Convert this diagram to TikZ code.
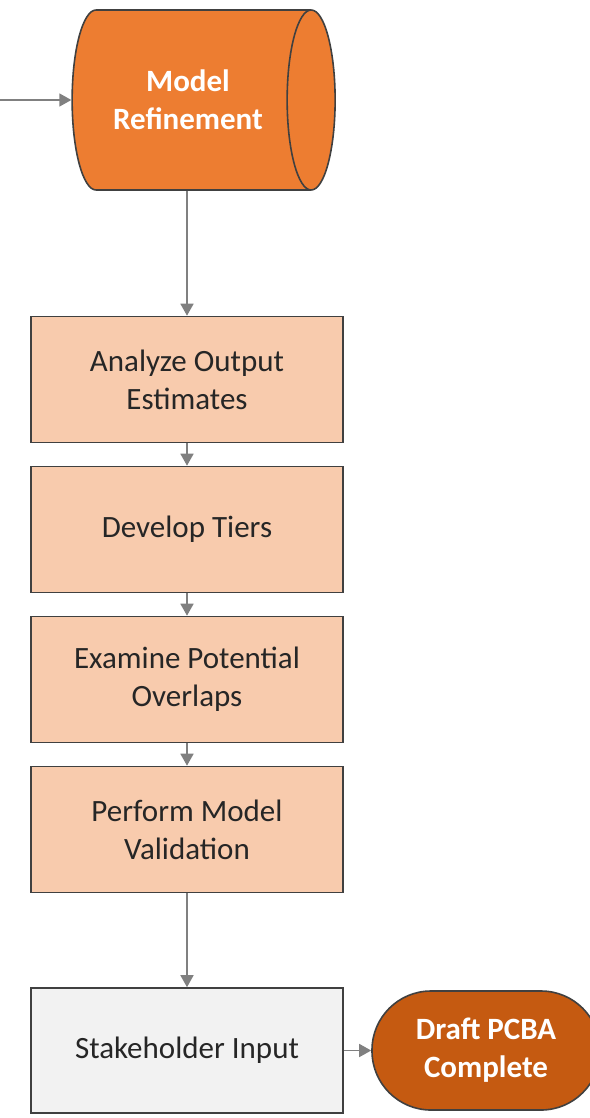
\documentclass[tikz,border=0pt]{standalone}
\usepackage{fontspec}
\setmainfont{Carlito}
\usetikzlibrary{shapes.geometric, arrows.meta, positioning}

\definecolor{refineorange}{HTML}{ED7D31}
\definecolor{draftorange}{HTML}{C55A11}
\definecolor{stepfill}{HTML}{F8CBAD}
\definecolor{inputfill}{HTML}{F2F2F2}
\definecolor{edgegray}{HTML}{404040}
\definecolor{flowgray}{HTML}{808080}

\tikzset{
  stepbox/.style = {draw = edgegray, line width = 1.6pt, fill = stepfill, minimum width = 312pt, minimum height = 126pt, align = center, text = black!85, font = \fontsize{31}{38}\selectfont},
  flow/.style = {draw = flowgray, line width = 1.6pt, -{Triangle[length = 12pt, width = 13pt]}}
}

\begin{document}
\begin{tikzpicture}[x = 1pt, y = 1pt]
\useasboundingbox (0,0) rectangle (589,-1118);
\node[cylinder, draw = edgegray, line width = 1.6pt, fill = refineorange, shape aspect = 0.72, minimum height = 263pt, minimum width = 180pt, align = center, text = white, font = \bfseries\fontsize{31}{38}\selectfont](refine) at (188,-100){Model\\Refinement};
\node[stepbox](analyze) at (187,-379.5){Analyze Output\\Estimates};
\node[stepbox, below = 22.4pt of analyze](tiers){Develop Tiers};
\node[stepbox, below = 22.4pt of tiers](overlap){Examine Potential\\Overlaps};
\node[stepbox, below = 22.4pt of overlap](validate){Perform Model\\Validation};
\node[stepbox, fill = inputfill, minimum height = 125pt, below = 93.9pt of validate](stake){Stakeholder Input};
\node[draw = edgegray, line width = 1.6pt, fill = draftorange, rounded corners = 59pt, minimum width = 228pt, minimum height = 119pt, align = center, text = white, font = \bfseries\fontsize{31}{38}\selectfont, right = 27.4pt of stake](draft){Draft PCBA\\Complete};
\coordinate (feed) at (0,-100);
\draw[flow] (feed) -- (refine.west |- feed);
\draw[flow] (refine.south -| analyze.north) -- (analyze.north);
\draw[flow] (analyze) -- (tiers);
\draw[flow] (tiers) -- (overlap);
\draw[flow] (overlap) -- (validate);
\draw[flow] (validate) -- (stake);
\draw[flow] (stake) -- (draft);
\end{tikzpicture}
\end{document}
